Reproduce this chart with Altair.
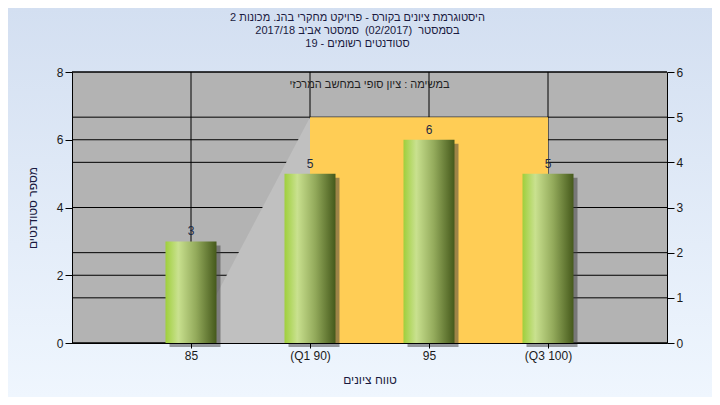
import altair as alt
import pandas as pd

# ---- data ----
grades = [85, 90, 95, 100]
grade_labels = ["85", "(Q1 90)", "95", "(Q3 100)"]
counts = [3, 5, 6, 5]
left_ticks = [0, 2, 4, 6, 8]
right_ticks = [0, 1, 2, 3, 4, 5, 6]
box_q1, box_q3, box_top = 90, 100, 5
whisker_x = [85, 90]
whisker_y = [0, 5]
title_lines = [
    "היסטוגרמת ציונים בקורס - פרויקט מחקרי בהנ. מכונות 2",
    "בסמסטר \u00a0(02/2017) \u00a0סמסטר אביב 2017/18",
    "סטודנטים רשומים - 19",
]
note_text = "במשימה : ציון סופי במחשב המרכזי"
x_title = "טווח ציונים"
y_title = "מספר סטודנטים"

W, H = 595, 271
FONT = "Liberation Sans"

bars_df = pd.DataFrame({"x": grades, "count": counts})
lgrid_df = pd.DataFrame({"v": left_ticks})
rgrid_df = pd.DataFrame({"r": right_ticks})
xgrid_df = pd.DataFrame({"x": grades})
box_df = pd.DataFrame({"x": [box_q1], "x2": [box_q3], "r": [0], "r2": [box_top]})
whisk_df = pd.DataFrame({"x": whisker_x, "r": whisker_y})
one = pd.DataFrame({"a": [0]})

label_expr = " : ".join(
    f"datum.value == {g} ? '{l}'" for g, l in zip(grades, grade_labels)
) + " : ''"

xs = alt.Scale(domain=[80, 105], nice=False, zero=False, padding=0)
yL = alt.Scale(domain=[0, 8], nice=False, padding=0)
yR = alt.Scale(domain=[0, 6], nice=False, padding=0)

x_axis = alt.Axis(
    values=grades, labelExpr=label_expr, title=x_title, grid=False,
    tickSize=5, tickColor="black", domainColor="black", labelPadding=2,
    titlePadding=13, zindex=1,
)
left_axis = alt.Axis(
    values=left_ticks, title=y_title, grid=False, tickSize=7,
    tickColor="black", domainColor="black", labelPadding=2,
    titlePadding=17, zindex=1, orient="left",
)
right_axis = alt.Axis(
    values=right_ticks, title=None, grid=False, tickSize=7,
    tickColor="black", domainColor="black", labelPadding=2,
    zindex=1, orient="right",
)


def X(field="x"):
    return alt.X(f"{field}:Q", scale=xs, axis=x_axis, title=x_title)


# ---- group A: background, plot area, left + x grid, title ----
bg = alt.Chart(one).mark_rect(
    fill=alt.Gradient(
        gradient="linear",
        stops=[alt.GradientStop(color="#d3dff1", offset=0),
               alt.GradientStop(color="#eff6fe", offset=1)],
        x1=0, x2=0, y1=0, y2=1,
    ),
    clip=False,
).encode(x=alt.value(-64), x2=alt.value(W + 45), y=alt.value(-64), y2=alt.value(H + 54))

title_mark = alt.Chart(one).mark_text(
    fontSize=11, font=FONT, color="#1a1a40", baseline="top", align="center",
    lineHeight=13,
).encode(x=alt.value(W / 2 - 12), y=alt.value(-60), text=alt.value(title_lines))

plot_bg = alt.Chart(one).mark_rect(fill="#b3b3b3").encode(
    x=alt.value(0), x2=alt.value(W), y=alt.value(0), y2=alt.value(H)
)

lgrid = alt.Chart(lgrid_df).mark_rule(color="black", strokeWidth=1).encode(
    y=alt.Y("v:Q", scale=yL, axis=None)
)
xgrid = alt.Chart(xgrid_df).mark_rule(color="black", strokeWidth=1).encode(x=X())

group_a = alt.layer(bg, title_mark, plot_bg, lgrid, xgrid)

# ---- group B: right grid, box area, whisker polygon ----
rgrid = alt.Chart(rgrid_df).mark_rule(color="black", strokeWidth=1).encode(
    y=alt.Y("r:Q", scale=yR, axis=right_axis)
)
box = alt.Chart(box_df).mark_rect(fill="#ffcd55").encode(
    x=X(), x2="x2:Q",
    y=alt.Y("r:Q", scale=yR, axis=right_axis), y2="r2:Q",
)
whisk = alt.Chart(whisk_df).mark_area(color="#c0c0c0").encode(
    x=X(), y=alt.Y("r:Q", scale=yR, axis=right_axis)
)
group_b = alt.layer(rgrid, box, whisk)

# ---- group C: bars, shadows, labels, note ----
bar_grad = alt.Gradient(
    gradient="linear",
    stops=[
        alt.GradientStop(color="#9fcf3c", offset=0),
        alt.GradientStop(color="#c9e18f", offset=0.25),
        alt.GradientStop(color="#93aa5b", offset=0.6),
        alt.GradientStop(color="#45591b", offset=1),
    ],
    x1=0, x2=1, y1=0, y2=0,
)
ybars = alt.Y("count:Q", scale=yL, axis=left_axis, title=y_title)
shadow = alt.Chart(bars_df).mark_bar(
    size=51, color="#3c3c3c", opacity=0.5, xOffset=4, yOffset=4, clip=False
).encode(x=X(), y=ybars)
bars = alt.Chart(bars_df).mark_bar(size=51, fill=bar_grad).encode(x=X(), y=ybars)
labels = alt.Chart(bars_df).mark_text(
    baseline="bottom", dy=-3, fontSize=12, font=FONT, color="#1c2a44"
).encode(x=X(), y=ybars, text="count:Q")
note = alt.Chart(one).mark_text(
    fontSize=11, font=FONT, color="#222222", baseline="middle"
).encode(x=alt.value(W / 2), y=alt.value(13), text=alt.value(note_text))
group_c = alt.layer(shadow, bars, labels, note)

chart = (
    alt.layer(group_a, group_b, group_c)
    .resolve_scale(y="independent")
    .properties(
        width=W,
        height=H,
        autosize=alt.AutoSizeParams(type="none"),
        padding={"left": 64, "top": 64, "right": 45, "bottom": 54},
    )
    .configure(background="#e2ebf8")
    .configure_view(stroke=None)
    .configure_axis(
        labelFont=FONT, labelFontSize=12, labelColor="#1a1a1a",
        titleFont=FONT, titleFontSize=12, titleFontWeight="normal",
        titleColor="#1a1a40",
    )
)

chart.save("out.html", embed_options={"renderer": "svg", "actions": False})
